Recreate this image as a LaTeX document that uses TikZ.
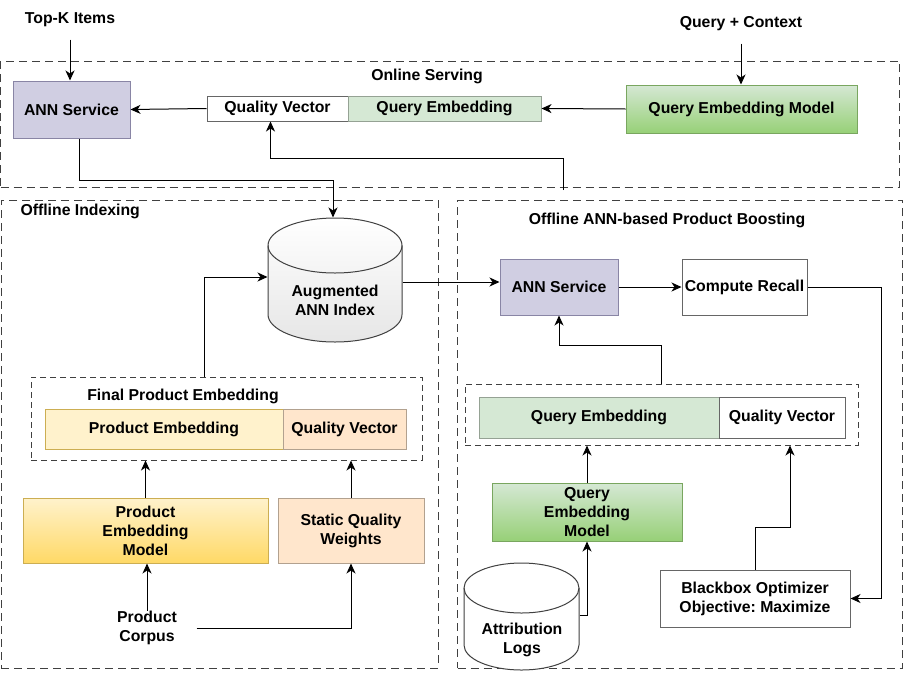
\documentclass[tikz,border=0pt]{standalone}
\usepackage{fontspec}
\setmainfont{Liberation Sans}
\usepackage{xcolor}
\usetikzlibrary{arrows.meta}
\definecolor{annfill}{HTML}{D0CEE2}
\definecolor{annline}{HTML}{56517E}
\definecolor{greenlight}{HTML}{D5E8D4}
\definecolor{greendark}{HTML}{97D077}
\definecolor{yellowlight}{HTML}{FFF2CC}
\definecolor{yellowdark}{HTML}{FFD966}
\definecolor{orangelight}{HTML}{FFE6CC}
\definecolor{cylgray}{HTML}{E6E6E6}

\begin{document}
\begin{tikzpicture}[x=1pt, y=-1pt, line width=1pt,
  every node/.style={font=\fontsize{15.8}{19}\selectfont\bfseries\frenchspacing, align=center, inner sep=0pt},
  box/.style={draw=black!60, rectangle, minimum width=#1},
  group/.style={draw=black!75, dash pattern=on 8pt off 5pt},
  arr/.style={-{Stealth[length=10pt, width=9pt, inset=3pt]}},
  db/.style={draw=black!75}]
  \useasboundingbox (0,0) rectangle (904,672);

  % containers
  \node[group, minimum width=899pt, minimum height=126pt] (online) at (450,124) {};
  \node[group, minimum width=437pt, minimum height=468pt] (indexing) at (219.5,434) {};
  \node[group, minimum width=445pt, minimum height=468pt] (boosting) at (680,434) {};
  \node[group, dash pattern=on 6pt off 4pt, minimum width=391pt, minimum height=83pt] (finalemb) at (226.5,418.5) {};
  \node[group, dash pattern=on 6pt off 4pt, minimum width=393pt, minimum height=61pt] (querygrp) at (661.5,414.5) {};
  \node at (427,76) {Online Serving};
  \node[anchor=west] at (20,211) {Offline Indexing};
  \node at (667,220) {Offline ANN-based Product Boosting};
  \node at (183,396) {Final Product Embedding};

  % online serving
  \node (topk) at (70,20) {Top-K Items};
  \node (ctx) at (741,24) {Query + Context};
  \node[box=117pt, minimum height=57pt, fill=annfill, draw=annline!70] (ann1) at (71.5,109.5) {ANN Service};
  \node[box=141pt, minimum height=25pt, fill=white] (qv1) at (277.5,108.5) {Quality Vector};
  \node[box=193pt, minimum height=25pt, fill=greenlight, draw=greenlight!70!black] (qe1) at (444.5,108.5) {Query Embedding};
  \node[box=231pt, minimum height=48pt, top color=greenlight, bottom color=greendark, draw=greendark!80!black] (qem1) at (741.5,109) {Query Embedding Model};
  \coordinate (back) at (563,190);

  % offline indexing
  \node[minimum width=134pt, minimum height=124pt] (aug) at (335,280) {};
  \path[top color=white, bottom color=cylgray] (268,245.5) -- (268,314.5) .. controls (268,329.7) and (298,342) .. (335,342) .. controls (372,342) and (402,329.7) .. (402,314.5) -- (402,245.5) .. controls (402,230.3) and (372,218) .. (335,218) .. controls (298,218) and (268,230.3) .. (268,245.5) -- cycle;
  \draw[db] (268,245.5) -- (268,314.5) .. controls (268,329.7) and (298,342) .. (335,342) .. controls (372,342) and (402,329.7) .. (402,314.5) -- (402,245.5) .. controls (402,230.3) and (372,218) .. (335,218) .. controls (298,218) and (268,230.3) .. (268,245.5) -- cycle;
  \draw[db] (268,245.5) .. controls (268,260.7) and (298,273) .. (335,273) .. controls (372,273) and (402,260.7) .. (402,245.5);
  \node at (335,300) {Augmented\\ANN Index};
  \node[box=238pt, minimum height=40pt, fill=yellowlight, draw=yellowdark!80!black] (pe) at (164,429) {Product Embedding};
  \node[box=123pt, minimum height=40pt, fill=orangelight, draw=orangelight!70!black] (qv2) at (344.5,429) {Quality Vector};
  \node[box=245pt, minimum height=65pt, top color=yellowlight, bottom color=yellowdark, draw=yellowdark!80!black] (pem) at (145.5,530.5) {Product\\Embedding\\Model};
  \node[box=146pt, minimum height=65pt, fill=orangelight, draw=orangelight!70!black] (sqw) at (351,530.5) {Static Quality\\Weights};
  \node[minimum width=98pt] (corpus) at (147,628) {Product\\Corpus};

  % offline boosting
  \node[box=118pt, minimum height=56pt, fill=annfill, draw=annline!70] (ann2) at (559,287) {ANN Service};
  \node[box=125pt, minimum height=56pt, fill=white] (recall) at (744.5,287) {Compute Recall};
  \node[box=240pt, minimum height=41pt, fill=greenlight, draw=greenlight!70!black] (qe2) at (599,417.5) {Query Embedding};
  \node[box=126pt, minimum height=41pt, fill=white] (qv3) at (782,417.5) {Quality Vector};
  \node[box=190pt, minimum height=58pt, top color=greenlight, bottom color=greendark, draw=greendark!80!black] (qem2) at (587,512) {Query\\Embedding\\Model};
  \node[box=190pt, minimum height=57pt, fill=white] (bbo) at (755,598.5) {Blackbox Optimizer\\Objective: Maximize};
  \node[minimum width=115pt, minimum height=107pt] (logs) at (521.5,616.5) {};
  \draw[db, fill=white] (464,588) -- (464,645) .. controls (464,658.8) and (489.7,670) .. (521.5,670) .. controls (553.3,670) and (579,658.8) .. (579,645) -- (579,588) .. controls (579,574.2) and (553.3,563) .. (521.5,563) .. controls (489.7,563) and (464,574.2) .. (464,588) -- cycle;
  \draw[db] (464,588) .. controls (464,601.8) and (489.7,613) .. (521.5,613) .. controls (553.3,613) and (579,601.8) .. (579,588);
  \node at (522,640) {Attribution\\Logs};

  % connectors
  \draw[arr] ([yshift=-12pt]topk.south) -- (topk.south |- ann1.north);
  \draw[arr] ([yshift=-12pt]ctx.south) -- (ctx.south |- qem1.north);
  \draw[arr] (qem1.west) -- (qe1.east);
  \draw[arr] (qv1.west) -- (ann1.east);
  \draw[arr] (ann1.south -| 79,0) |- (333,180) -- (333,0 |- aug.north);
  \draw[arr] (back) -- (563,158) -| ([xshift=-7pt]qv1.south);
  \draw[arr] (finalemb.north -| 204,0) |- (aug.west |- 0,277);
  \draw[arr] (pem.north) -- (pem.north |- finalemb.south);
  \draw[arr] (sqw.north) -- (sqw.north |- finalemb.south);
  \draw[arr] (corpus.north) -- (corpus.north |- pem.south);
  \draw[arr] (corpus.east) -| (sqw.south);
  \draw[arr] (aug.east |- 0,282) -- (ann2.west |- 0,282);
  \draw[arr] (ann2.east) -- (recall.west);
  \draw[arr] (recall.east) -| (881,0 |- bbo.east) -- (bbo.east);
  \draw[arr] (bbo.north) -- (755,527) -| (790,0 |- querygrp.south);
  \draw[arr] (querygrp.north) -- (661.5,345) -| (ann2.south);
  \draw[arr] (qem2.north) -- (qem2.north |- querygrp.south);
  \draw[arr] (logs.east |- 0,615) -| (qem2.south);
\end{tikzpicture}
\end{document}
